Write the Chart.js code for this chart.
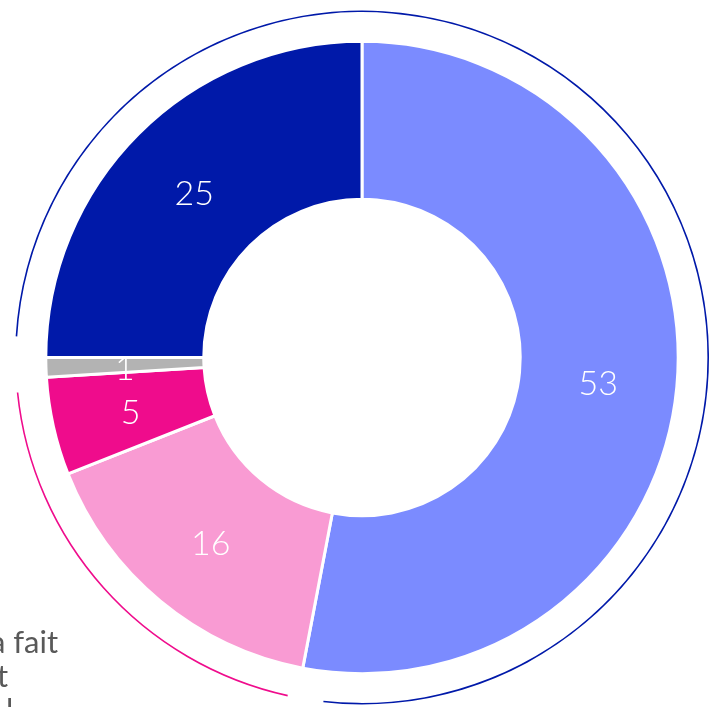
<!DOCTYPE html>
<html lang="fr">
<head>
    <meta charset="UTF-8">
    <title>Répartition</title>
    <script src="https://cdn.jsdelivr.net/npm/chart.js"></script>
    <style>
        body {
            margin: 0;
            background: #ffffff;
            overflow: hidden;
        }
        #wrap {
            position: relative;
            width: 709px;
            height: 707px;
        }
        .legendLine {
            position: absolute;
            font-family: "Lato", sans-serif;
            font-size: 31px;
            line-height: 34px;
            color: #595959;
            white-space: nowrap;
        }
    </style>
</head>
<body>
<div id="wrap">
    <canvas id="donut" width="709" height="707"></canvas>
</div>
<script>
    // valeurs du graphique (sens horaire depuis le haut)
    const labels = ['A', 'B', 'C', 'D', 'E'];
    const values = [53, 16, 5, 1, 25];
    const colors = ['#7b8bff', '#f99bd3', '#ef0c8c', '#b3b3b3', '#0019a9'];

    // arcs extérieurs (en degrés), départ à 273.5°
    const outerArcs = [272.9, 6, 71.8, 9.3];
    const outerColors = ['#0019a9', 'rgba(0,0,0,0)', '#ef0c8c', 'rgba(0,0,0,0)'];
    const outerStart = 273.5;

    // texte coupé en bas à gauche
    const legendLines = ['a fait', 't', 'l'];
    const legendLeft = [-10, -3, 6];
    legendLines.forEach(function (txt, i) {
        const d = document.createElement('div');
        d.className = 'legendLine';
        d.textContent = txt;
        d.style.left = legendLeft[i] + 'px';
        d.style.top = (624 + i * 34) + 'px';
        document.getElementById('wrap').appendChild(d);
    });

    // étiquettes de valeur au centre de chaque part
    const valueLabels = {
        id: 'valueLabels',
        afterDatasetsDraw(chart) {
            const ctx = chart.ctx;
            const meta = chart.getDatasetMeta(2);
            ctx.save();
            ctx.fillStyle = '#ffffff';
            ctx.font = '300 34px Lato';
            ctx.textAlign = 'center';
            ctx.textBaseline = 'middle';
            meta.data.forEach(function (arc, i) {
                const p = arc.tooltipPosition();
                ctx.fillText(String(values[i]), p.x, p.y + 4);
            });
            ctx.restore();
        }
    };

    const ctx1 = document.getElementById('donut').getContext('2d');
    const chart = new Chart(ctx1, {
        type: 'doughnut',
        data: {
            labels: labels,
            datasets: [{
                data: outerArcs,
                backgroundColor: outerColors,
                borderWidth: 0,
                rotation: outerStart,
                weight: 1.6
            }, {
                data: [1],
                backgroundColor: ['rgba(0,0,0,0)'],
                borderWidth: 0,
                weight: 29.2
            }, {
                data: values,
                backgroundColor: colors,
                borderColor: '#ffffff',
                borderWidth: 3,
                weight: 158
            }]
        },
        options: {
            responsive: false,
            animation: false,
            radius: 347,
            cutout: '45.6%',
            layout: {
                padding: { left: 15, top: 8, right: 0, bottom: 0 }
            },
            plugins: {
                legend: { display: false },
                tooltip: { enabled: false }
            }
        },
        plugins: [valueLabels]
    });
</script>
</body>
</html>
